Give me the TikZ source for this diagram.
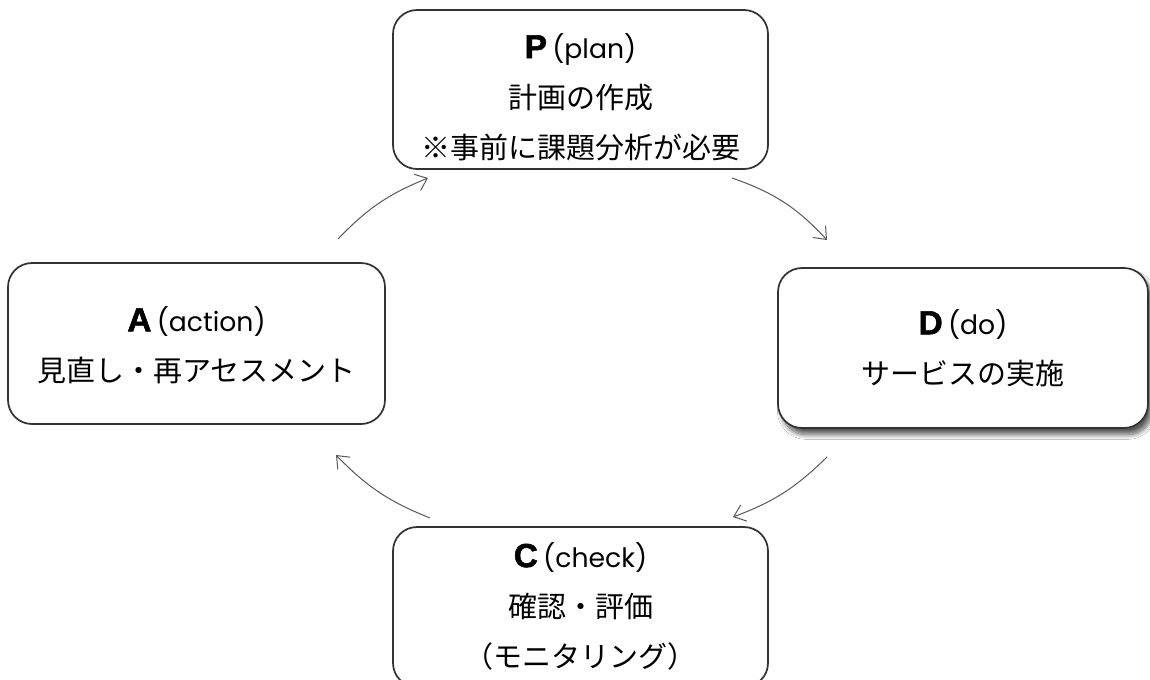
\documentclass[tikz,border=0pt]{standalone}
\usepackage{fontspec}
\setmainfont{Noto Sans CJK JP}
\newfontfamily\jpfont{Noto Sans CJK JP}
\newfontfamily\latinfont{Poppins}
\newfontfamily\capfont{Liberation Sans}[BoldFeatures={FakeBold=1.6}]
\usetikzlibrary{arrows.meta,shadows.blur}
\newcommand\hd[2]{{\capfont\bfseries\fontsize{25}{37.5}\selectfont #1}\hspace{4pt}{\latinfont\fontsize{20}{37.5}\selectfont(#2)}}
\tikzset{
  box/.style={draw=black!80, line width=1.3pt, rounded corners=18pt, fill=white, inner sep=0pt},
  txt/.style={align=center, inner sep=0pt, font=\jpfont\fontsize{21.75}{37.5}\selectfont},
  arr/.style={draw=black!65, line width=0.75pt, -{Straight Barb[length=8pt,width=13pt,line width=0.75pt]}},
}
\begin{document}
\begin{tikzpicture}[x=0.75pt,y=-0.75pt]
\useasboundingbox (0,0) rectangle (1150,679);
\clip (0,0) rectangle (1150,679);
\fill[white] (0,0) rectangle (1150,679);
% boxes
\node[box, minimum width=281.25pt, minimum height=119.25pt] (P) at (580.5,89.5) {};
\node[box, minimum width=282.75pt, minimum height=120.75pt] (A) at (196.5,343.5) {};
\node[box, minimum width=277.5pt, minimum height=120pt,
      blur shadow={shadow xshift=3pt, shadow yshift=-5pt, shadow blur radius=3.5pt, shadow blur steps=10, shadow opacity=65}] (D) at (963,348) {};
\node[box, minimum width=281.25pt, minimum height=120pt] (C) at (580.5,607) {};
% texts
\node[txt] (Pt) at (580.5,97) {\hd{P}{plan}\\計画の作成\\※事前に課題分析が必要};
\node[txt] (At) at (196.5,345) {\hd{A}{action}\\見直し・再アセスメント};
\node[txt] (Dt) at (963,348) {\hd{D}{do}\\サービスの実施};
\node[txt] (Ct) at (580.5,606) {\hd{C}{check}\\確認・評価\\（モニタリング）};
% arrow ends
\coordinate (a1s) at (338,239); \coordinate (a1e) at (428,178);
\coordinate (a2s) at (732,178); \coordinate (a2e) at (827,240);
\coordinate (a3s) at (827,457); \coordinate (a3e) at (733,517);
\coordinate (a4s) at (430,518); \coordinate (a4e) at (336,455);
\draw[arr] (a1s) to[bend left=12] (a1e);
\draw[arr] (a2s) to[bend left=14] (a2e);
\draw[arr] (a3s) to[bend left=12] (a3e);
\draw[arr] (a4s) to[bend left=12] (a4e);
\end{tikzpicture}
\end{document}
